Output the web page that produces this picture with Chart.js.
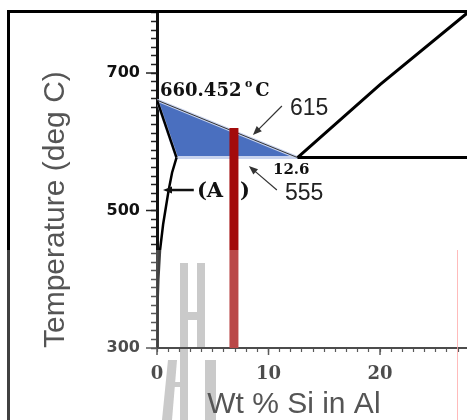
<!DOCTYPE html>
<html>
<head>
<meta charset="utf-8">
<script src="https://cdn.jsdelivr.net/npm/chart.js@4/dist/chart.umd.min.js"></script>
<style>
  html, body { margin: 0; padding: 0; background: #fff; }
  #wrap { width: 467px; height: 420px; }
</style>
</head>
<body>
<div id="wrap"><canvas id="phaseChart" width="467" height="420"></canvas></div>
<script>
// Al-Si phase diagram, Al-rich side (wt % Si, deg C)
const liquidusAl = [{x: 0, y: 660.452}, {x: 12.6, y: 577}];
const liquidusSi = [{x: 12.6, y: 577}, {x: 20, y: 683}, {x: 27.8, y: 787}];
const eutecticLine = [{x: 12.6, y: 577}, {x: 27.8, y: 577}];
const solidusAl = [{x: 0, y: 660.452}, {x: 1.75, y: 577}];
const solvusAl = [
    {x: 1.75, y: 577}, {x: 1.35, y: 555}, {x: 1.05, y: 530}, {x: 0.8, y: 505},
    {x: 0.55, y: 480}, {x: 0.27, y: 442}, {x: 0.12, y: 400}, {x: 0.03, y: 355}, {x: 0, y: 300}
];
const mushyZone = [{x: 0, y: 660.452}, {x: 12.6, y: 577}, {x: 1.75, y: 577}, {x: 0, y: 660.452}];
const alloyLine = [{x: 6.9, y: 300}, {x: 6.9, y: 620}];

const tempTicks = [300, 500, 700];
const siTicks = [0, 10, 20];
const tempMinorStep = 12.5;
const siMinorStep = 1;

const meltLabel = ['660.452', 'o', 'C'];
const liquidusLabel = '615';
const solidusLabel = '555';
const eutecticLabel = '12.6';
const phaseLabel = ['(A', ')'];
const xTitle = 'Wt % Si in Al';
const yTitle = 'Temperature (deg C)';

function drawArrow(ctx, x1, y1, x2, y2, width, head, color) {
    const ang = Math.atan2(y2 - y1, x2 - x1);
    const c = Math.cos(ang), s = Math.sin(ang);
    ctx.strokeStyle = color;
    ctx.fillStyle = color;
    ctx.lineWidth = width;
    ctx.beginPath();
    ctx.moveTo(x1, y1);
    ctx.lineTo(x2 - c * head * 0.7, y2 - s * head * 0.7);
    ctx.stroke();
    ctx.beginPath();
    ctx.moveTo(x2, y2);
    ctx.lineTo(x2 - head * c + head * 0.4 * s, y2 - head * s - head * 0.4 * c);
    ctx.lineTo(x2 - head * c - head * 0.4 * s, y2 - head * s + head * 0.4 * c);
    ctx.closePath();
    ctx.fill();
}

const decor = {
    id: 'decor',
    beforeDraw(chart) {
        // faint watermark behind the plot
        const ctx = chart.ctx;
        ctx.save();
        ctx.fillStyle = '#b8b8b8';
        ctx.fillRect(180, 263, 8, 157);
        ctx.fillRect(197, 263, 8, 84);
        ctx.fillRect(188, 312, 9, 8);
        ctx.fillRect(170, 382, 12, 5);
        ctx.fillRect(205, 360, 11, 60);
        ctx.beginPath();
        ctx.moveTo(162, 420); ctx.lineTo(172, 420); ctx.lineTo(177, 360); ctx.lineTo(168, 360);
        ctx.closePath();
        ctx.fill();
        ctx.restore();
    },
    afterDraw(chart) {
        const {ctx, chartArea: area, scales: {x, y}} = chart;
        const X = v => x.getPixelForValue(v);
        const Y = v => y.getPixelForValue(v);
        ctx.save();

        // longer major ticks
        ctx.strokeStyle = '#222';
        ctx.lineWidth = 1.5;
        tempTicks.forEach(t => {
            const py = Y(t);
            ctx.beginPath(); ctx.moveTo(area.left - 11, py); ctx.lineTo(area.left, py); ctx.stroke();
        });
        siTicks.forEach(s => {
            const px = X(s);
            ctx.beginPath(); ctx.moveTo(px, area.bottom); ctx.lineTo(px, area.bottom + 7); ctx.stroke();
        });

        // annotations
        ctx.fillStyle = '#111';
        ctx.textAlign = 'left';
        ctx.textBaseline = 'alphabetic';
        ctx.font = "bold 18px 'DejaVu Serif'";
        ctx.fillText(meltLabel[0], X(0.27), Y(666.5));
        ctx.fillText(meltLabel[2], X(8.8), Y(666.5));
        ctx.font = "bold 11px 'DejaVu Serif'";
        ctx.fillText(meltLabel[1], X(7.9), Y(679.6));
        ctx.font = "bold 15px 'DejaVu Serif'";
        ctx.fillText(eutecticLabel, X(10.4), Y(553));
        ctx.font = "bold 21px 'DejaVu Serif'";
        ctx.fillText(phaseLabel[0], X(3.58), Y(519.6));
        ctx.fillText(phaseLabel[1], X(7.44), Y(519.6));
        ctx.fillStyle = '#222';
        ctx.font = "23px 'Liberation Sans'";
        ctx.fillText(liquidusLabel, X(11.92), Y(638.9));
        ctx.fillText(solidusLabel, X(11.47), Y(515.3));

        drawArrow(ctx, X(11.2), Y(652), X(8.6), Y(609.8), 1.2, 9, '#333');
        drawArrow(ctx, X(10.75), Y(529.8), X(8.24), Y(564.7), 1.2, 9, '#333');
        drawArrow(ctx, X(3.3), Y(529.8), X(0.54), Y(529.8), 2.5, 9, '#111');

        // picture frame
        ctx.fillStyle = '#000';
        ctx.fillRect(7, 10, 460, 3);
        ctx.fillRect(7, 10, 3, 410);

        // washed-out lower part of the scan (title band left untouched)
        ctx.fillStyle = 'rgba(255,255,255,0.25)';
        ctx.fillRect(0, 250, 36, 170);
        ctx.fillRect(78, 250, 389, 170);
        ctx.strokeStyle = 'rgba(255,170,170,0.8)';
        ctx.lineWidth = 1;
        ctx.beginPath(); ctx.moveTo(457.5, 250); ctx.lineTo(457.5, 420); ctx.stroke();

        // x axis title
        ctx.fillStyle = '#555';
        ctx.font = "30px 'Liberation Sans'";
        ctx.fillText(xTitle, X(4.5), chart.height - 7);
        ctx.restore();
    }
};

const line = (label, data, color, width, order) => ({
    label, data, showLine: true, borderColor: color, borderWidth: width,
    pointRadius: 0, fill: false, order
});

new Chart(document.getElementById('phaseChart'), {
    type: 'scatter',
    data: {
        datasets: [
            {
                label: 'Liquid + solid', data: mushyZone, showLine: true, fill: 'shape',
                backgroundColor: '#4a6fbf', borderColor: '#c8d3ee', borderWidth: 3,
                pointRadius: 0, order: 6
            },
            line('Liquidus (Al)', liquidusAl, '#333', 1, 4),
            line('Solidus', solidusAl, '#000', 2.5, 4),
            line('Solvus', solvusAl, '#000', 2.5, 4),
            line('Liquidus (Si)', liquidusSi, '#000', 3, 4),
            line('Eutectic', eutecticLine, '#000', 3, 4),
            Object.assign(line('Alloy', alloyLine, '#a30b0b', 9, 1), {borderCapStyle: 'butt'})
        ]
    },
    options: {
        responsive: false,
        animation: false,
        devicePixelRatio: 1,
        layout: { padding: { top: 11, left: 0, right: 0, bottom: 0 } },
        plugins: { legend: { display: false }, tooltip: { enabled: false } },
        scales: {
            x: {
                type: 'linear', min: 0, max: 27.8, bounds: 'data',
                afterFit(scale) { scale.height = 72; scale.paddingLeft = 0; scale.paddingRight = 0; },
                border: { display: true, color: '#111', width: 2 },
                grid: { drawOnChartArea: false, tickLength: 4, color: '#222', tickColor: '#222', tickWidth: 1.2 },
                ticks: {
                    stepSize: siMinorStep, autoSkip: false, includeBounds: false, maxRotation: 0,
                    padding: 12, color: '#111',
                    font: { family: "'DejaVu Serif'", weight: 'bold', size: 18 },
                    callback: v => siTicks.includes(v) ? String(v) : ''
                }
            },
            y: {
                type: 'linear', min: 300, max: 790.2, bounds: 'data',
                afterFit(scale) { scale.width = 157; scale.paddingTop = 0; scale.paddingBottom = 0; },
                border: { display: true, color: '#111', width: 3 },
                grid: { drawOnChartArea: false, tickLength: 6, color: '#222', tickColor: '#222', tickWidth: 1.5 },
                ticks: {
                    stepSize: tempMinorStep, autoSkip: false, includeBounds: false,
                    padding: 11, color: '#111',
                    font: { family: "'DejaVu Sans'", weight: 'bold', size: 16 },
                    callback: v => tempTicks.includes(v) ? String(v) : ''
                },
                title: {
                    display: true, text: yTitle, align: 'start', color: '#555',
                    font: { family: "'Liberation Sans'", size: 30 },
                    padding: { top: 38, bottom: 0 }
                }
            }
        }
    },
    plugins: [decor]
});
</script>
</body>
</html>
